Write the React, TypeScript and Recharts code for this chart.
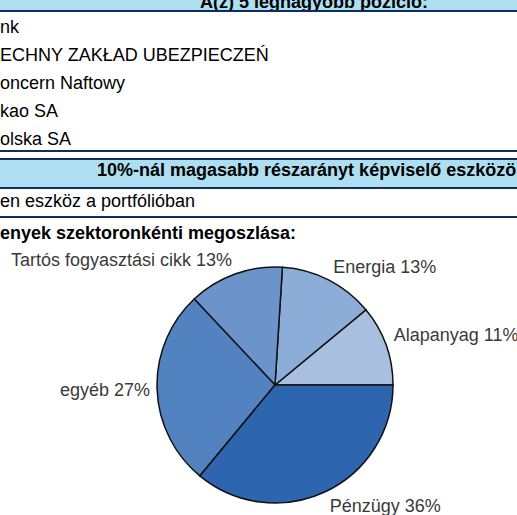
import React from "react";
import { PieChart, Pie, Cell } from "recharts";

const sectors = ["Alapanyag", "Energia", "Tartós fogyasztási cikk", "egyéb", "Pénzügy"];
const shares = [11, 13, 13, 27, 36];
const sectorColors = ["#a8bfe0", "#8badd7", "#6c94cb", "#5282c0", "#2d65ae"];

const topHeader = "A(z) 5 legnagyobb pozíció:";
const topRows = [
  "nk",
  "ECHNY ZAKŁAD UBEZPIECZEŃ",
  "oncern Naftowy",
  "kao SA",
  "olska SA",
];
const bigHeader = "10%-nál magasabb részarányt képviselő eszközö";
const bigRow = "en eszköz a portfólióban";
const sectionTitle = "enyek szektoronkénti megoszlása:";

const data = sectors.map((name, i) => ({ name, value: shares[i] }));

const RADIAN = Math.PI / 180;
const NAVY = "#0e2d5c";
const BAND = "#addff0";
const FONT = "'Liberation Sans', Arial, sans-serif";

const renderLabel = (props: any) => {
  const { cx, cy, midAngle, outerRadius, name, value } = props;
  const c = Math.cos(midAngle * RADIAN);
  const s = Math.sin(midAngle * RADIAN);
  const r = outerRadius + 6;
  const ax = cx + r * c;
  const ay = cy - r * s;
  const fy = Math.min(1, Math.abs(s) * 3) * Math.sign(s);
  const y = ay - 9 * fy + 6;
  return (
    <text
      x={ax + (c >= 0 ? 2 : -1)}
      y={s >= 0 ? y + 1 : y}
      textAnchor={c >= 0 ? "start" : "end"}
      fill="#3a3a3a"
      fontSize={18}
      fontFamily={FONT}
    >
      {`${name} ${value}%`}
    </text>
  );
};

export default function App() {
  return (
    <div
      style={{
        position: "fixed",
        left: 0,
        top: 0,
        width: 517,
        height: 515,
        overflow: "hidden",
        background: "#ffffff",
      }}
    >
      <svg
        width={517}
        height={515}
        style={{ position: "absolute", left: 0, top: 0 }}
        fontFamily={FONT}
      >
        <rect x={0} y={0} width={517} height={10} fill={BAND} />
        <text x={200} y={8} fontSize={18} fontWeight="bold" fill="#000">
          {topHeader}
        </text>
        <rect x={0} y={10} width={517} height={2} fill={NAVY} />
        {topRows.map((t, i) => (
          <text key={i} x={0} y={33 + i * 28} fontSize={18} fill="#000">
            {t}
          </text>
        ))}
        <rect x={0} y={150} width={517} height={2} fill={NAVY} />
        <rect x={0} y={158} width={517} height={2} fill={NAVY} />
        <rect x={0} y={160} width={517} height={27} fill={BAND} />
        <rect x={0} y={187} width={517} height={2} fill={NAVY} />
        <text x={97} y={176} fontSize={18} fontWeight="bold" fill="#000">
          {bigHeader}
        </text>
        <text x={0} y={207} fontSize={18} fill="#000">
          {bigRow}
        </text>
        <rect x={0} y={216} width={517} height={2} fill={NAVY} />
        <text x={0} y={239} fontSize={18} fontWeight="bold" fill="#000">
          {sectionTitle}
        </text>
      </svg>
      <div style={{ position: "absolute", left: 0, top: 0 }}>
        <PieChart width={517} height={515} margin={{ top: 0, right: 0, bottom: 0, left: 0 }}>
          <Pie
            data={data}
            dataKey="value"
            nameKey="name"
            cx={275}
            cy={385}
            outerRadius={118}
            startAngle={0}
            endAngle={360}
            isAnimationActive={false}
            label={renderLabel}
            labelLine={false}
          >
            {data.map((d, i) => (
              <Cell key={d.name} fill={sectorColors[i]} stroke="#111" strokeWidth={1.5} />
            ))}
          </Pie>
        </PieChart>
      </div>
    </div>
  );
}
